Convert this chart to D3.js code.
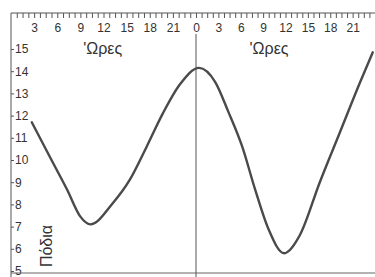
<!DOCTYPE html>
<html>
<head>
<meta charset="utf-8">
<script src="https://cdn.jsdelivr.net/npm/d3@7"></script>
<style>
  body { margin: 0; background: #fff; }
  svg { display: block; }
  .axis text { font-family: "Liberation Sans", Arial, sans-serif; font-size: 12px; fill: #333; }
  .axis path, .axis line { stroke: #555; }
</style>
</head>
<body>
<div id="chart"></div>
<script>
// hours counted from the start of day 1 (24 = midnight between the two days)
var hours = [2.7, 5.1, 7.3, 9.0, 10.3, 13.2, 15.4, 17.6, 19.7, 21.9, 24.4, 26.6, 28.3, 30.2, 31.9, 33.7, 35.8, 37.9, 40.6, 43.3, 46.0, 47.7];
var feet  = [11.7, 10.1, 8.65, 7.45, 7.1, 8.05, 9.1, 10.6, 12.1, 13.4, 14.15, 13.5, 12.2, 10.6, 8.7, 6.9, 5.8, 6.6, 9.0, 11.25, 13.5, 14.85];

var hourLabels = [3, 6, 9, 12, 15, 18, 21, 24, 27, 30, 33, 36, 39, 42, 45];
var footLabels = [5, 6, 7, 8, 9, 10, 11, 12, 13, 14, 15];
var xTitle = "'Ωρες";
var yTitle = "Πόδια";

var width = 375, height = 277;

var svg = d3.select('#chart')
    .append('svg')
    .attr('width', width)
    .attr('height', height)
;

var x = d3.scaleLinear()
    .domain([0, 24, 48])
    .range([11, 196, 375])
;

var y = d3.scaleLinear()
    .domain([5, 15])
    .range([271, 49])
;

// top ruler: small ticks, labels every 3 hours
var topAxis = d3.axisBottom(x)
    .tickValues(d3.range(0.75, 48, 0.75))
    .tickSize(5)
    .tickPadding(5)
    .tickFormat(function (h) {
        return hourLabels.indexOf(h) >= 0 ? String(h % 24) : '';
    })
;

svg.append('g')
    .attr('class', 'axis')
    .attr('transform', 'translate(0,13)')
    .call(topAxis)
    .call(function (g) {
        g.select('.domain').attr('d', 'M' + x(0) + ',0H' + width);
    })
;

// left axis
var leftAxis = d3.axisRight(y)
    .tickValues(footLabels)
    .tickSize(3)
    .tickPadding(1)
;

svg.append('g')
    .attr('class', 'axis')
    .attr('transform', 'translate(' + x(0) + ',0)')
    .call(leftAxis)
    .call(function (g) {
        g.select('.domain').attr('d', 'M0,13V' + height);
    })
;

// bottom line and midnight line
svg.append('line')
    .attr('x1', x(0)).attr('x2', width)
    .attr('y1', 273).attr('y2', 273)
    .attr('stroke', '#666')
;

svg.append('line')
    .attr('x1', x(24)).attr('x2', x(24))
    .attr('y1', 34).attr('y2', height)
    .attr('stroke', '#555')
;

// titles
[x(1) + 84, x(24) + 73].forEach(function (cx) {
    svg.append('text')
        .attr('x', cx)
        .attr('y', 54)
        .attr('text-anchor', 'middle')
        .attr('font-family', '"Liberation Sans", Arial, sans-serif')
        .attr('font-size', 16)
        .attr('fill', '#333')
        .text(xTitle)
    ;
});

svg.append('text')
    .attr('transform', 'translate(52,246) rotate(-90)')
    .attr('text-anchor', 'middle')
    .attr('font-family', '"Liberation Sans", Arial, sans-serif')
    .attr('font-size', 16)
    .attr('fill', '#333')
    .text(yTitle)
;

// tide curve
var lineFunction = d3.line()
    .x(function (d, i) { return x(hours[i]); })
    .y(function (d) { return y(d); })
    .curve(d3.curveMonotoneX)
;

svg.append('path')
    .attr('d', lineFunction(feet))
    .attr('fill', 'none')
    .attr('stroke', '#4a4a4a')
    .attr('stroke-width', 2.4)
    .attr('stroke-linecap', 'round')
;
</script>
</body>
</html>
